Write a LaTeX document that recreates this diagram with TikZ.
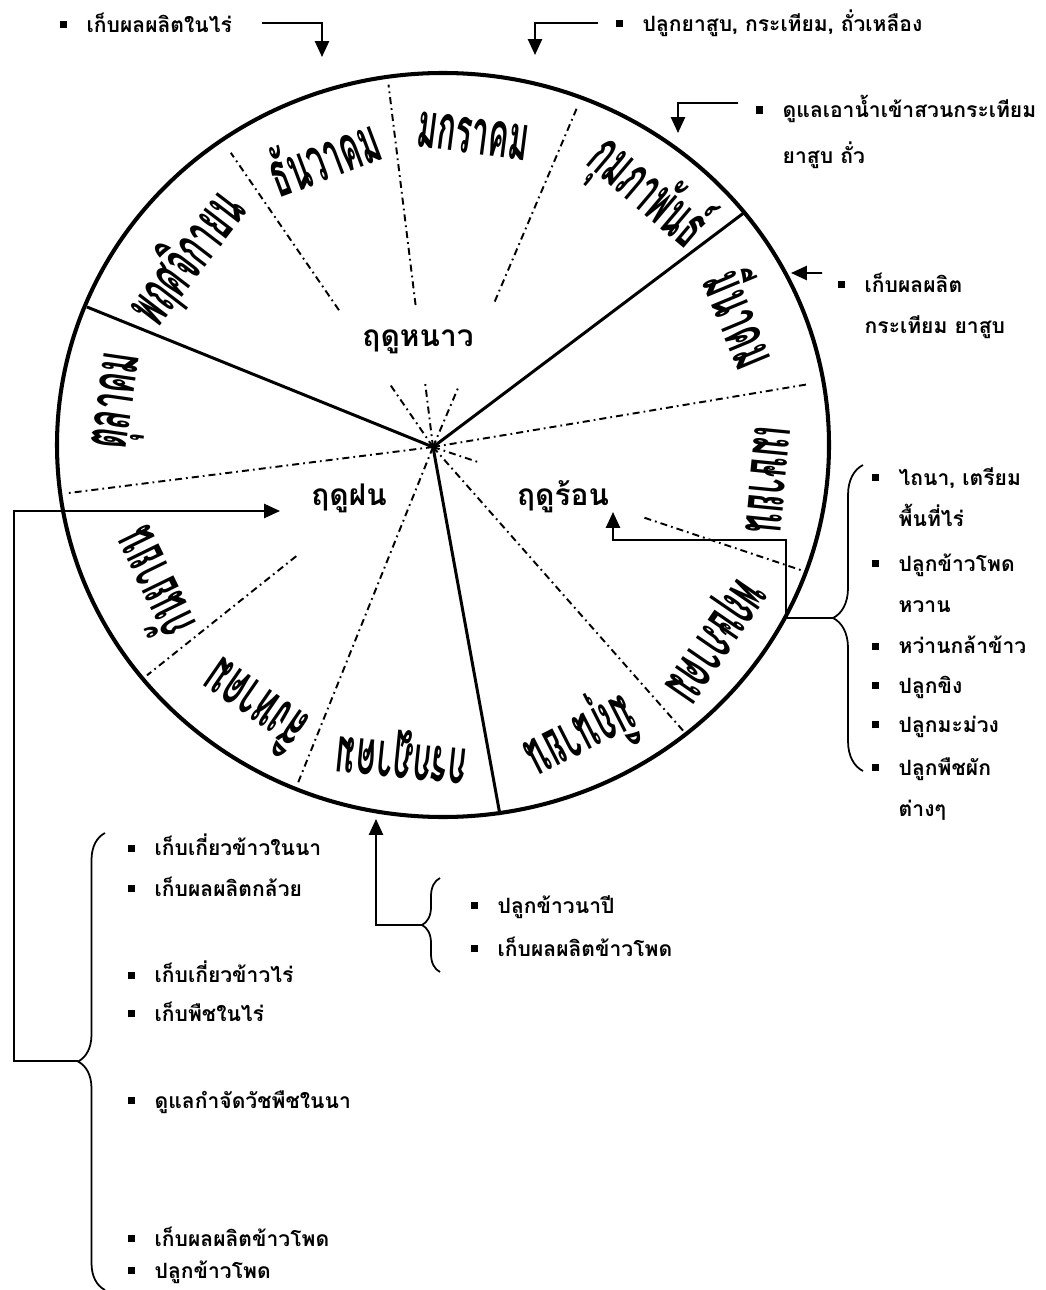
\documentclass[tikz,border=0pt]{standalone}
\usepackage{fontspec}
\usepackage{graphicx}
\usepackage{tikz}
\usetikzlibrary{arrows.meta, positioning, calc, decorations.pathreplacing}
\newfontfamily\thaifont[Script=Thai]{Loma}
\newcommand{\itembul}{\rule[0.2em]{4pt}{4pt}\hspace{11pt}}
\newcommand{\itemind}{\hspace{15pt}}
\newcommand{\monthtxt}[1]{\scalebox{0.72}[1.5]{#1}}

\begin{document}
\begin{tikzpicture}[
    x=0.02cm, y=0.02cm,
    every node/.style={inner sep=0pt},
    rim/.style={line width=2.3pt},
    bound/.style={line width=1.7pt},
    sub/.style={line width=1.1pt, dash pattern=on 4pt off 2.3pt on 1pt off 2.3pt},
    arr/.style={line width=1.1pt, -{Triangle[length=9pt, width=8pt]}},
    brc/.style={line width=1pt, decorate, decoration={brace, amplitude=#1}},
    month/.style={font=\thaifont\bfseries\fontsize{24}{24}\selectfont},
    season/.style={font=\thaifont\bfseries\fontsize{17}{17}\selectfont},
    item/.style={anchor=west, align=left, font=\thaifont\bfseries\fontsize{12}{23.6}\selectfont}
]
\useasboundingbox (0,0) rectangle (1045,-1290);

% wheel
\coordinate (hub) at (433,-447);
\draw[rim] (443,-445) ellipse [x radius=386, y radius=372];
\draw[bound] (hub) -- (745,-212);
\draw[bound] (hub) -- (87,-307);
\draw[bound] (hub) -- (500,-815);

\draw[sub] (hub) -- ($(hub)+(9.5:380)$);
\draw[sub] (hub) -- ($(hub)+(-48.6:381)$);
\draw[sub] (hub) -- ($(hub)+(248.1:362)$);
\draw[sub] (hub) -- ($(hub)+(187.2:369)$);
\draw[sub] (hub) -- ($(hub)+(-18.5:50)$) ($(hub)+(-18.5:223)$) -- ($(hub)+(-18.5:389)$);
\draw[sub] (hub) -- ($(hub)+(67:67)$) ($(hub)+(67:158)$) -- ($(hub)+(67:370)$);
\draw[sub] (hub) -- ($(hub)+(97:65)$) ($(hub)+(97:143)$) -- ($(hub)+(97:365)$);
\draw[sub] (hub) -- ($(hub)+(124.5:75)$) ($(hub)+(124.5:166)$) -- ($(hub)+(124.5:357)$);
\draw[sub] ($(hub)+(218.6:175)$) -- ($(hub)+(218.6:366)$);

\node[season] (winter) at (418,-342) {ฤดูหนาว};
\node[season] (summer) at (563,-497) {ฤดูร้อน};
\node[season] (rainy) at (349,-498) {ฤดูฝน};

\node[month, rotate=-7.3] (jan) at (473,-136) {\monthtxt{มกราคม}};
\node[month, rotate=-40.3] (feb) at (648,-192) {\monthtxt{กุมภาพันธ์}};
\node[month, rotate=-67.4] (mar) at (745,-317) {\monthtxt{มีนาคม}};
\node[month, rotate=-95.6] (apr) at (768,-480) {\monthtxt{เมษายน}};
\node[month, rotate=-124.5] (may) at (711,-638) {\monthtxt{พฤษภาคม}};
\node[month, rotate=-153] (jun) at (580,-735) {\monthtxt{มิถุนายน}};
\node[month, rotate=174.2] (jul) at (402,-754) {\monthtxt{กรกฎาคม}};
\node[month, rotate=145.3] (aug) at (252,-708) {\monthtxt{สิงหาคม}};
\node[month, rotate=116] (sep) at (150,-585) {\monthtxt{กันยายน}};
\node[month, rotate=81.7] (oct) at (123,-402) {\monthtxt{ตุลาคม}};
\node[month, rotate=52.5] (nov) at (187,-258) {\monthtxt{พฤศจิกายน}};
\node[month, rotate=20.6] (dec) at (323,-155) {\monthtxt{ธันวาคม}};

% notes round the wheel
\node[item] (t1) at (60,-23) {\itembul เก็บผลผลิตในไร่};
\coordinate (c1) at (322,-57);
\draw[arr] ([xshift=0.6cm]t1.east) -| (c1);

\node[item] (t2) at (616,-23) {\itembul ปลูกยาสูบ, กระเทียม, ถั่วเหลือง};
\coordinate (c2) at (535,-55);
\draw[arr] ([xshift=-0.36cm]t2.west) -| (c2);

\node[item] (t3) at (756,-132) {\itembul ดูแลเอาน้ำเข้าสวนกระเทียม\\[2.4pt]\itemind ยาสูบ ถั่ว};
\coordinate (c3) at (678,-133);
\draw[arr] ([xshift=-0.36cm, yshift=0.58cm]t3.west) -| (c3);

\node[item] (t4) at (838,-306) {\itembul เก็บผลผลิต\\\itemind กระเทียม ยาสูบ};
\coordinate (c4) at (791,-273);
\draw[arr] ([xshift=-0.32cm, yshift=0.66cm]t4.west) -- (c4);

\node[item] (r1) at (872,-497) {\itembul ไถนา, เตรียม\\\itemind พื้นที่ไร่};
\node[item] (r2) at (872,-583) {\itembul ปลูกข้าวโพด\\\itemind หวาน};
\node[item] (r3) at (872,-645) {\itembul หว่านกล้าข้าว};
\node[item] (r4) at (872,-687) {\itembul ปลูกขิง};
\node[item] (r5) at (872,-727) {\itembul ปลูกมะม่วง};
\node[item] (r6) at (872,-789) {\itembul ปลูกพืชผัก\\\itemind ต่างๆ};
\draw[brc=0.6cm] (863,-771) -- (863,-465);
\coordinate (rtip) at (833,-618);
\coordinate (c5) at (613,-512);
\draw[arr] (rtip) -- (786,-618) -- (786,-540) -| (c5);

\node[item] (m1) at (471,-907) {\itembul ปลูกข้าวนาปี};
\node[item] (m2) at (471,-947) {\itembul เก็บผลผลิตข้าวโพด};
\draw[brc=0.36cm] (440,-972) -- (440,-878);
\coordinate (mtip) at (422,-925);
\coordinate (c6) at (376,-819);
\draw[arr] (mtip) -| (c6);

\node[item] (l1) at (128,-845) {\itembul เก็บเกี่ยวข้าวในนา};
\node[item] (l2) at (128,-887) {\itembul เก็บผลผลิตกล้วย};
\node[item] (l3) at (128,-972) {\itembul เก็บเกี่ยวข้าวไร่};
\node[item] (l4) at (128,-1012) {\itembul เก็บพืชในไร่};
\node[item] (l5) at (128,-1102) {\itembul ดูแลกำจัดวัชพืชในนา};
\node[item] (l6) at (128,-1237) {\itembul เก็บผลผลิตข้าวโพด};
\node[item] (l7) at (128,-1272) {\itembul ปลูกข้าวโพด};
\draw[brc=0.54cm] (105,-1290) -- (105,-833);
\coordinate (ltip) at (78,-1061);
\coordinate (c7) at (280,-511);
\draw[arr] (ltip) -- (14,-1061) |- (c7);

\end{tikzpicture}
\end{document}
